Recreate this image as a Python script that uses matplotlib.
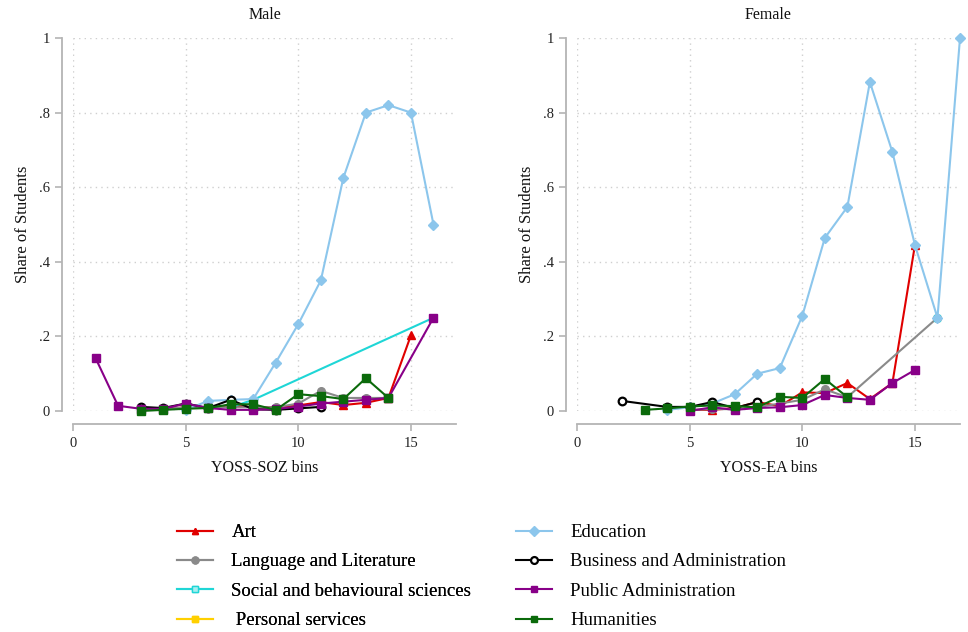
import matplotlib
matplotlib.use("Agg")
import matplotlib.pyplot as plt
from matplotlib.lines import Line2D

plt.rcParams['font.family'] = ['Liberation Serif', 'DejaVu Serif']

# ---- data: share of students by bin ----
categories = ["Art", "Language and Literature", "Social and behavioural sciences",
              " Personal services", "Education", "Business and Administration",
              "Public Administration", "Humanities"]

# Male panel (YOSS-SOZ bins)
male_art_x = [3, 4, 5, 6, 7, 8, 9, 10, 11, 12, 13, 14, 15]
male_art_y = [0.005, 0.005, 0.01, 0.01, 0.015, 0.01, 0.01, 0.015, 0.024, 0.016, 0.022, 0.035, 0.203]
male_lang_x = [3, 4, 5, 6, 7, 8, 9, 10, 11, 12, 13, 14]
male_lang_y = [0.005, 0.005, 0.01, 0.01, 0.01, 0.01, 0.01, 0.02, 0.054, 0.035, 0.035, 0.035]
male_soc_x = [7, 8, 16]
male_soc_y = [0.01, 0.03, 0.25]
male_pers_x = []
male_pers_y = []
male_edu_x = [5, 6, 7, 8, 9, 10, 11, 12, 13, 14, 15, 16]
male_edu_y = [0.003, 0.027, 0.03, 0.032, 0.13, 0.233, 0.35, 0.625, 0.80, 0.82, 0.80, 0.50]
male_bus_x = [3, 4, 5, 6, 7, 8, 9, 10, 11]
male_bus_y = [0.011, 0.008, 0.02, 0.008, 0.03, 0.005, 0.003, 0.007, 0.011]
male_pub_x = [1, 2, 3, 4, 5, 6, 7, 8, 9, 10, 11, 12, 13, 14, 16]
male_pub_y = [0.142, 0.014, 0.006, 0.006, 0.02, 0.008, 0.003, 0.003, 0.005, 0.012, 0.02, 0.025, 0.03, 0.035, 0.25]
male_hum_x = [3, 4, 5, 6, 7, 8, 9, 10, 11, 12, 13, 14]
male_hum_y = [0.0, 0.003, 0.006, 0.008, 0.018, 0.018, 0.003, 0.045, 0.04, 0.032, 0.088, 0.035]

# Female panel (YOSS-EA bins)
fem_art_x = [5, 6, 7, 8, 9, 10, 11, 12, 13, 14, 15]
fem_art_y = [0.003, 0.003, 0.008, 0.024, 0.013, 0.05, 0.048, 0.075, 0.032, 0.075, 0.445]
fem_lang_x = [5, 6, 7, 8, 9, 10, 11, 12, 16]
fem_lang_y = [0.003, 0.005, 0.005, 0.01, 0.02, 0.03, 0.058, 0.037, 0.25]
fem_soc_x = [16]
fem_soc_y = [0.25]
fem_pers_x = []
fem_pers_y = []
fem_edu_x = [4, 5, 6, 7, 8, 9, 10, 11, 12, 13, 14, 15, 16, 17]
fem_edu_y = [0.003, 0.01, 0.02, 0.045, 0.10, 0.115, 0.255, 0.464, 0.547, 0.882, 0.694, 0.445, 0.25, 1.0]
fem_bus_x = [2, 4, 5, 6, 7, 8]
fem_bus_y = [0.027, 0.011, 0.011, 0.024, 0.008, 0.024]
fem_pub_x = [5, 6, 7, 8, 9, 10, 11, 12, 13, 14, 15]
fem_pub_y = [0.0, 0.01, 0.003, 0.008, 0.01, 0.016, 0.043, 0.035, 0.03, 0.075, 0.11]
fem_hum_x = [3, 4, 5, 6, 7, 8, 9, 10, 11, 12]
fem_hum_y = [0.003, 0.007, 0.012, 0.015, 0.013, 0.01, 0.038, 0.035, 0.086, 0.037]

y_ticks = [0, 0.2, 0.4, 0.6, 0.8, 1.0]
y_tick_labels = ["0", ".2", ".4", ".6", ".8", "1"]
x_ticks = [0, 5, 10, 15]

# ---- styles per field ----
styles = [
    dict(color="#e00000", marker="^", mfc="#e00000", mec="#e00000"),
    dict(color="#8a8a8a", marker="o", mfc="#8a8a8a", mec="#8a8a8a"),
    dict(color="#1fd6d6", marker="s", mfc="#a8eef0", mec="#1fd6d6", ms=5),
    dict(color="#ffd000", marker="s", mfc="#ffd000", mec="#ffd000"),
    dict(color="#8cc6ec", marker="D", mfc="#8cc6ec", mec="#8cc6ec", ms=5.5),
    dict(color="#000000", marker="o", mfc="white", mec="#000000", mew=1.6),
    dict(color="#880088", marker="s", mfc="#880088", mec="#880088"),
    dict(color="#0b6a0b", marker="s", mfc="#0b6a0b", mec="#0b6a0b"),
]

male_series = [(male_art_x, male_art_y), (male_lang_x, male_lang_y),
               (male_soc_x, male_soc_y), (male_pers_x, male_pers_y),
               (male_edu_x, male_edu_y), (male_bus_x, male_bus_y),
               (male_pub_x, male_pub_y), (male_hum_x, male_hum_y)]
fem_series = [(fem_art_x, fem_art_y), (fem_lang_x, fem_lang_y),
              (fem_soc_x, fem_soc_y), (fem_pers_x, fem_pers_y),
              (fem_edu_x, fem_edu_y), (fem_bus_x, fem_bus_y),
              (fem_pub_x, fem_pub_y), (fem_hum_x, fem_hum_y)]

W, H = 968, 632
fig = plt.figure(figsize=(W / 100, H / 100), dpi=100)

def px_rect(x0, x1, y_top, y_bot):
    return [x0 / W, 1 - y_bot / H, (x1 - x0) / W, (y_bot - y_top) / H]

ax_m = fig.add_axes(px_rect(73, 456, 38, 411))
ax_f = fig.add_axes(px_rect(577, 960, 38, 411))

spine_col = "#b4b4b4"
grid_col = "#cfcfcf"

def style_axes(ax, title, xlabel):
    ax.set_xlim(0, 17)
    ax.set_ylim(0, 1)
    for s in ("top", "right"):
        ax.spines[s].set_visible(False)
    ax.spines["left"].set_position(("outward", 8))
    ax.spines["bottom"].set_position(("outward", 9))
    ax.spines["left"].set_bounds(0, 1)
    ax.spines["bottom"].set_bounds(0, 17)
    for s in ("left", "bottom"):
        ax.spines[s].set_color(spine_col)
        ax.spines[s].set_linewidth(1.3)
    ax.set_yticks(y_ticks)
    ax.set_yticklabels(y_tick_labels)
    ax.set_xticks(x_ticks)
    ax.tick_params(axis="both", colors=spine_col, labelcolor="#222222",
                   labelsize=10.5, length=5, width=1.2)
    ax.tick_params(axis="x", pad=5)
    ax.grid(True, color=grid_col, linestyle=(0, (1, 3)), linewidth=1.0)
    ax.set_axisbelow(True)
    ax.set_title(title, fontsize=11.5, pad=14, color="#111111")
    ax.set_xlabel(xlabel, fontsize=11.5, labelpad=7, color="#111111")
    ax.set_ylabel("Share of Students", fontsize=12, labelpad=6, color="#111111")

def draw(ax, series):
    for (xs, ys), st in zip(series, styles):
        ax.plot(xs, ys, color=st["color"], lw=1.5, marker=st["marker"],
                ms=st.get("ms", 5.5), mfc=st["mfc"], mec=st["mec"],
                mew=st.get("mew", 1.0), clip_on=False)

style_axes(ax_m, "Male", "YOSS-SOZ bins")
style_axes(ax_f, "Female", "YOSS-EA bins")
draw(ax_m, male_series)
draw(ax_f, fem_series)

def handle(st):
    return Line2D([], [], color=st["color"], lw=1.5, marker=st["marker"],
                  ms=st.get("ms", 5.5) * 0.9, mfc=st["mfc"], mec=st["mec"],
                  mew=st.get("mew", 1.0))

leg_kw = dict(frameon=False, fontsize=13.5, handlelength=1.9, handletextpad=1.0,
              labelspacing=0.65, borderpad=0, borderaxespad=0, loc="upper left")
leg1 = fig.legend([handle(s) for s in styles[:4]], categories[:4],
                  bbox_to_anchor=(177 / W, 1 - 524 / H), **leg_kw)
leg2 = fig.legend([handle(s) for s in styles[4:]], categories[4:],
                  bbox_to_anchor=(516 / W, 1 - 524 / H), **leg_kw)
fig.add_artist(leg1)

fig.savefig("out.png", dpi=100)
